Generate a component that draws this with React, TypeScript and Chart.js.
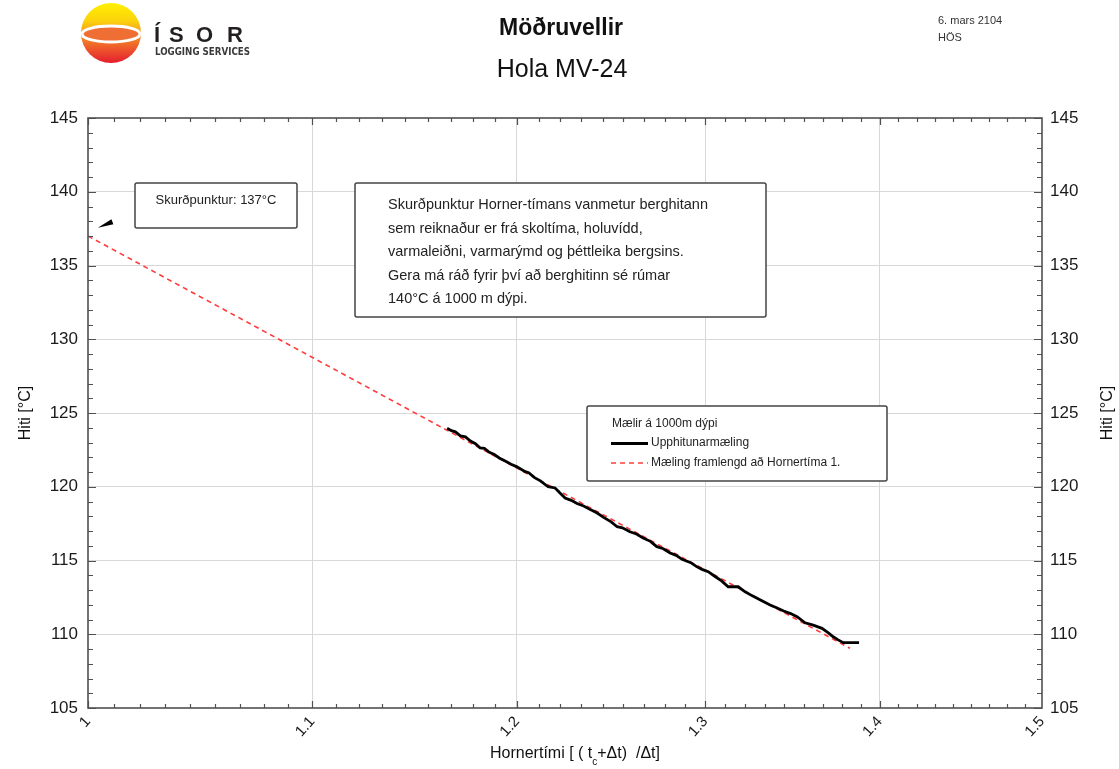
import React, { useEffect, useRef } from "react";
import { Chart, registerables } from "chart.js";

Chart.register(...registerables);

// ---------- data ----------
const xMajor = [1, 1.1, 1.2, 1.3, 1.4, 1.5];
const xTickLabels = ["1", "1.1", "1.2", "1.3", "1.4", "1.5"];
const yMin = 105;
const yMax = 145;
const yStep = 5;

// Upphitunarmæling (measured heating curve)
const upX = [
  1.1649, 1.167, 1.169, 1.1715, 1.174, 1.1765, 1.179, 1.1814, 1.1835, 1.186,
  1.1885, 1.191, 1.194, 1.197, 1.2, 1.2042, 1.206, 1.209, 1.212, 1.216,
  1.2196, 1.222, 1.2248, 1.228, 1.231, 1.2345, 1.238, 1.2416, 1.245, 1.249,
  1.2522, 1.255, 1.259, 1.2625, 1.2661, 1.27, 1.2735, 1.277, 1.2807, 1.284,
  1.2872, 1.292, 1.295, 1.2982, 1.3016, 1.305, 1.309, 1.3127, 1.3183, 1.3222,
  1.326, 1.33, 1.3363, 1.34, 1.344, 1.348, 1.3517, 1.3563, 1.361, 1.3661,
  1.37, 1.3726, 1.3755, 1.3785, 1.3878,
];
const upT = [
  123.96, 123.8, 123.72, 123.45, 123.38, 123.1, 122.92, 122.63, 122.6, 122.33,
  122.18, 121.95, 121.75, 121.52, 121.35, 121.02, 120.95, 120.62, 120.4, 120.0,
  119.92, 119.6, 119.24, 119.08, 118.86, 118.7, 118.45, 118.22, 117.92, 117.62,
  117.29, 117.22, 116.95, 116.8, 116.53, 116.3, 115.94, 115.8, 115.51, 115.35,
  115.08, 114.85, 114.6, 114.4, 114.24, 113.95, 113.62, 113.22, 113.22, 112.88,
  112.62, 112.38, 111.98, 111.8, 111.58, 111.4, 111.19, 110.78, 110.62, 110.4,
  110.08, 109.83, 109.62, 109.43, 109.43,
];

// Mæling framlengd að Hornertíma 1 (extrapolated line)
const fitX = [1, 1.3824];
const fitT = [137, 109.05];

const seriesLabels = ["Upphitunarmæling", "Mæling framlengd að Hornertíma 1."];
const legendTitle = "Mælir á 1000m dýpi";
const titleText = "Möðruvellir";
const subtitleText = "Hola MV-24";
const dateText = "6. mars 2104";
const authorText = "HÖS";
const interceptText = "Skurðpunktur: 137°C";
const arrowAt = [1.0072, 138.1];
const noteLines = [
  "Skurðpunktur Horner-tímans vanmetur berghitann",
  "sem reiknaður er frá skoltíma, holuvídd,",
  "varmaleiðni, varmarýmd og þéttleika bergsins.",
  "Gera má ráð fyrir því að berghitinn sé rúmar",
  "140°C á 1000 m dýpi.",
];
const yTitle = "Hiti [°C]";

const FONT = '"Liberation Sans", Arial, sans-serif';
const BLACK_LINE = "#000000";
const RED_LINE = "#ff3c3c";

function boxRect(ctx: CanvasRenderingContext2D, x: number, y: number, w: number, h: number) {
  ctx.save();
  ctx.fillStyle = "#ffffff";
  ctx.strokeStyle = "#444444";
  ctx.lineWidth = 1.5;
  ctx.beginPath();
  if ((ctx as any).roundRect) (ctx as any).roundRect(x, y, w, h, 2);
  else ctx.rect(x, y, w, h);
  ctx.fill();
  ctx.stroke();
  ctx.restore();
}

const decorPlugin = {
  id: "decor",
  afterDraw(chart: any) {
    const { ctx, chartArea: a, scales } = chart;
    const xs = scales.x;
    const ys = scales.y;
    ctx.save();

    // frame
    ctx.strokeStyle = "#505050";
    ctx.lineWidth = 1.6;
    ctx.strokeRect(a.left, a.top, a.right - a.left, a.bottom - a.top);

    // inner ticks
    ctx.lineWidth = 1.2;
    ctx.strokeStyle = "#505050";
    ctx.beginPath();
    for (let i = 0; i < xMajor.length - 1; i++) {
      for (let j = 0; j < 9; j++) {
        const v = xMajor[i] + (j * (xMajor[i + 1] - xMajor[i])) / 9;
        const px = Math.round(xs.getPixelForValue(v)) + 0.5;
        const len = j === 0 ? 7 : 4;
        ctx.moveTo(px, a.bottom);
        ctx.lineTo(px, a.bottom - len);
        ctx.moveTo(px, a.top);
        ctx.lineTo(px, a.top + len);
      }
    }
    for (let v = yMin; v <= yMax; v += 1) {
      const py = Math.round(ys.getPixelForValue(v)) + 0.5;
      const len = v % yStep === 0 ? 8 : 5;
      ctx.moveTo(a.left, py);
      ctx.lineTo(a.left + len, py);
      ctx.moveTo(a.right, py);
      ctx.lineTo(a.right - len, py);
    }
    ctx.stroke();

    // arrowhead
    const ax = xs.getPixelForValue(arrowAt[0]);
    const ay = ys.getPixelForValue(arrowAt[1]);
    ctx.fillStyle = "#000";
    ctx.beginPath();
    ctx.moveTo(ax - 7, ay + 8);
    ctx.lineTo(ax + 6.5, ay - 0.5);
    ctx.lineTo(ax + 8.5, ay + 4.5);
    ctx.closePath();
    ctx.fill();

    // intercept box
    boxRect(ctx, 135, 183, 162, 45);
    ctx.fillStyle = "#222";
    ctx.font = `13px ${FONT}`;
    ctx.textAlign = "center";
    ctx.textBaseline = "middle";
    ctx.fillText(interceptText, 216, 200);

    // note box
    boxRect(ctx, 355, 183, 411, 134);
    ctx.font = `14.5px ${FONT}`;
    ctx.textAlign = "left";
    noteLines.forEach((l, i) => ctx.fillText(l, 388, 205 + i * 23.5));

    // legend box
    boxRect(ctx, 587, 406, 300, 75);
    ctx.font = `12px ${FONT}`;
    ctx.fillStyle = "#222";
    ctx.fillText(legendTitle, 612, 424);
    const ds = chart.data.datasets;
    ctx.strokeStyle = ds[0].borderColor;
    ctx.lineWidth = ds[0].borderWidth;
    ctx.beginPath();
    ctx.moveTo(611, 443.5);
    ctx.lineTo(648, 443.5);
    ctx.stroke();
    ctx.fillText(seriesLabels[0], 651, 443);
    ctx.strokeStyle = ds[1].borderColor;
    ctx.lineWidth = ds[1].borderWidth;
    ctx.setLineDash(ds[1].borderDash);
    ctx.beginPath();
    ctx.moveTo(611, 463);
    ctx.lineTo(648, 463);
    ctx.stroke();
    ctx.setLineDash([]);
    ctx.fillText(seriesLabels[1], 651, 463);

    // header
    ctx.fillStyle = "#111";
    ctx.textAlign = "center";
    ctx.textBaseline = "alphabetic";
    ctx.font = `bold 23px ${FONT}`;
    ctx.fillText(titleText, 561, 35);
    ctx.font = `25px ${FONT}`;
    ctx.fillText(subtitleText, 562, 77);
    ctx.textAlign = "left";
    ctx.font = `11px ${FONT}`;
    ctx.fillStyle = "#333";
    ctx.fillText(dateText, 938, 24);
    ctx.fillText(authorText, 938, 41);

    // logo
    const cx = 111, cy = 33, r = 30;
    ctx.save();
    ctx.beginPath();
    ctx.arc(cx, cy, r, 0, Math.PI * 2);
    ctx.clip();
    const g = ctx.createLinearGradient(0, cy - r, 0, cy + r);
    g.addColorStop(0, "#fff000");
    g.addColorStop(0.3, "#fbd20c");
    g.addColorStop(0.5, "#f49a22");
    g.addColorStop(0.75, "#ee5a2c");
    g.addColorStop(1, "#e41e2e");
    ctx.fillStyle = g;
    ctx.fillRect(cx - r, cy - r, 2 * r, 2 * r);
    ctx.beginPath();
    ctx.ellipse(cx, cy + 1, r - 1, 8, 0, 0, Math.PI * 2);
    ctx.fillStyle = "#ee6e34";
    ctx.fill();
    ctx.strokeStyle = "#ffffff";
    ctx.lineWidth = 3;
    ctx.stroke();
    ctx.restore();
    ctx.fillStyle = "#231f20";
    ctx.font = `bold 22px ${FONT}`;
    ctx.textAlign = "left";
    ctx.fillText("Í", 154, 42);
    ctx.fillText("S", 169, 42);
    ctx.fillText("O", 196, 42);
    ctx.fillText("R", 227, 42);
    ctx.fillStyle = "#3a3a3a";
    ctx.font = `bold 11px "DejaVu Sans Condensed", "Liberation Sans Narrow", ${FONT}`;
    ctx.fillText("LOGGING SERVICES", 155, 55, 95);

    // axis titles
    ctx.fillStyle = "#111";
    ctx.font = `16px ${FONT}`;
    ctx.textAlign = "center";
    ctx.textBaseline = "middle";
    for (const tx of [26, 1108]) {
      ctx.save();
      ctx.translate(tx, 413);
      ctx.rotate(-Math.PI / 2);
      ctx.fillText(yTitle, 0, 0);
      ctx.restore();
    }
    // x title with subscript
    ctx.textAlign = "left";
    ctx.textBaseline = "alphabetic";
    const p1 = "Hornertími [ ( t";
    const p2 = "+Δt)";
    const p3 = "  /Δt]";
    ctx.font = `16px ${FONT}`;
    const w1 = ctx.measureText(p1).width;
    const w2 = ctx.measureText(p2).width;
    const w3 = ctx.measureText(p3).width;
    ctx.font = `10px ${FONT}`;
    const wc = ctx.measureText("c").width;
    const total = w1 + wc + w2 + w3;
    let x0 = 575 - total / 2;
    const base = 758;
    ctx.font = `16px ${FONT}`;
    ctx.fillText(p1, x0, base);
    x0 += w1;
    ctx.font = `10px ${FONT}`;
    ctx.fillText("c", x0, base + 7);
    x0 += wc;
    ctx.font = `16px ${FONT}`;
    ctx.fillText(p2, x0, base);
    x0 += w2;
    ctx.fillText(p3, x0, base);

    ctx.restore();
  },
};

export default function App() {
  const ref = useRef<HTMLCanvasElement | null>(null);

  useEffect(() => {
    document.body.style.margin = "0";
    const canvas = ref.current;
    if (!canvas) return;
    const gridColor = (c: any) => {
      const v = c.tick ? c.tick.value : null;
      return v === null || v <= yMin || v >= yMax ? "rgba(0,0,0,0)" : "#d8d8d8";
    };
    const chart = new Chart(canvas, {
      type: "line",
      data: {
        datasets: [
          {
            label: seriesLabels[0],
            data: upX.map((x, i) => ({ x, y: upT[i] })),
            borderColor: BLACK_LINE,
            borderWidth: 2.8,
            pointRadius: 0,
            tension: 0,
            fill: false,
          },
          {
            label: seriesLabels[1],
            data: fitX.map((x, i) => ({ x, y: fitT[i] })),
            borderColor: RED_LINE,
            borderWidth: 1.6,
            borderDash: [5, 4],
            pointRadius: 0,
            tension: 0,
            fill: false,
          },
        ],
      },
      options: {
        responsive: false,
        animation: false,
        events: [],
        layout: { padding: { top: 118, left: 0, right: 0, bottom: 0 } },
        plugins: { legend: { display: false }, tooltip: { enabled: false } },
        scales: {
          x: {
            type: "logarithmic",
            position: "bottom",
            min: xMajor[0],
            max: xMajor[xMajor.length - 1],
            afterBuildTicks: (s: any) => {
              s.ticks = xMajor.map((v) => ({ value: v }));
            },
            afterFit: (s: any) => {
              s.height = 61;
            },
            border: { display: false },
            grid: {
              drawTicks: false,
              lineWidth: 1,
              color: (c: any) => {
                const v = c.tick ? c.tick.value : null;
                return v === null || v <= xMajor[0] || v >= xMajor[xMajor.length - 1]
                  ? "rgba(0,0,0,0)"
                  : "#d8d8d8";
              },
            },
            ticks: {
              autoSkip: false,
              minRotation: 48,
              maxRotation: 48,
              padding: 5,
              color: "#1a1a1a",
              font: { family: FONT, size: 15 },
              callback: (_v: any, i: number) => xTickLabels[i],
            },
          },
          y: {
            type: "linear",
            position: "left",
            min: yMin,
            max: yMax,
            afterFit: (s: any) => {
              s.width = 88;
            },
            border: { display: false },
            grid: { drawTicks: false, lineWidth: 1, color: gridColor },
            ticks: {
              stepSize: yStep,
              padding: 10,
              color: "#1a1a1a",
              font: { family: FONT, size: 17 },
            },
          },
          y2: {
            type: "linear",
            position: "right",
            min: yMin,
            max: yMax,
            afterFit: (s: any) => {
              s.width = 77;
            },
            border: { display: false },
            grid: { display: false, drawTicks: false },
            ticks: {
              stepSize: yStep,
              padding: 8,
              color: "#1a1a1a",
              font: { family: FONT, size: 17 },
            },
          },
        },
      },
      plugins: [decorPlugin],
    } as any);
    return () => chart.destroy();
  }, []);

  return (
    <div style={{ position: "absolute", left: 0, top: 0, width: 1119, height: 769, background: "#fff" }}>
      <canvas ref={ref} width={1119} height={769} style={{ display: "block" }} />
    </div>
  );
}
